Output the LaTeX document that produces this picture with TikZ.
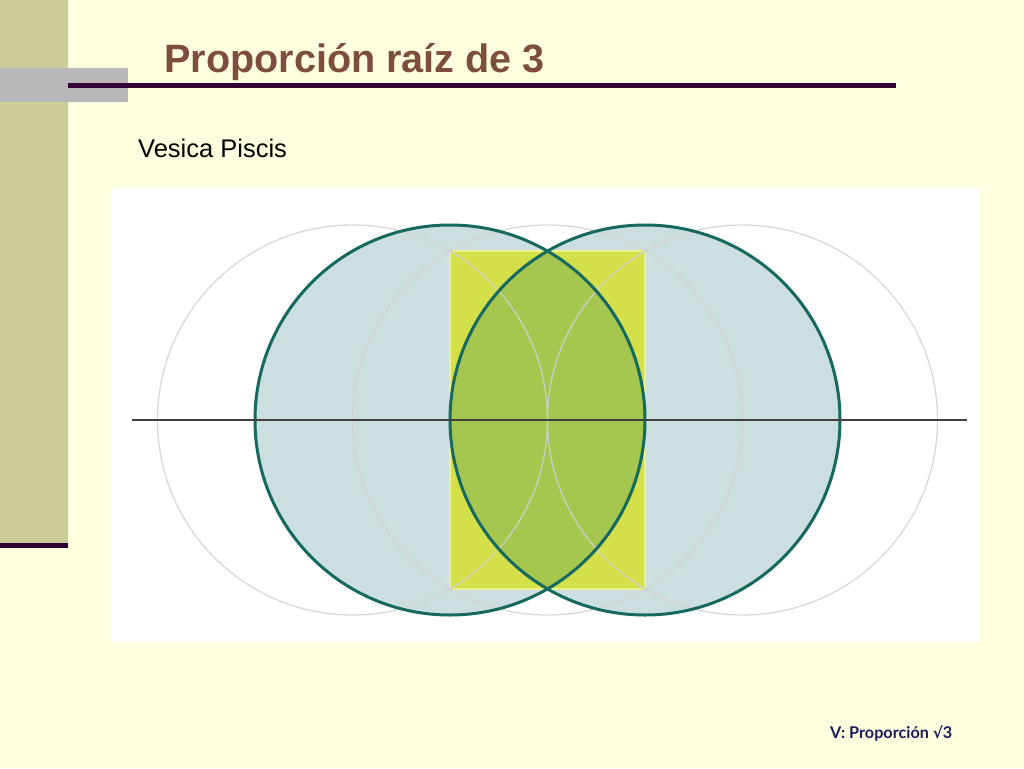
\documentclass[tikz,border=0pt]{standalone}
\usepackage{fontspec}
\setmainfont{Liberation Sans}
\newfontfamily\footfont{Lato}
\newfontfamily\symfont{DejaVu Sans}
\definecolor{bgyellow}{HTML}{FFFFE0}
\definecolor{sidebar}{HTML}{CCCC99}
\definecolor{grayrect}{HTML}{B8B8BA}
\definecolor{plum}{HTML}{330033}
\definecolor{titlebrown}{HTML}{7D4E40}
\definecolor{footnavy}{HTML}{1A1A5E}
\definecolor{tealfill}{HTML}{CCDFE0}
\definecolor{tealline}{HTML}{16695F}
\definecolor{rectyellow}{HTML}{D3E04A}
\definecolor{rectedge}{HTML}{EEF08C}
\definecolor{lensgreen}{HTML}{A5C64F}
\definecolor{guidegray}{HTML}{D2D2D2}
\tikzset{
  guide/.style={draw=guidegray, line width=1.3pt, opacity=0.85},
  bigcircle/.style={draw=tealline, line width=3pt},
}
\begin{document}
\begin{tikzpicture}[x=1pt,y=-1pt]
\useasboundingbox (0,0) rectangle (1024,768);
\fill[bgyellow] (0,0) rectangle (1024,768);
\fill[sidebar] (0,0) rectangle (68,545);
\fill[grayrect] (0,68) rectangle (128,102);
\fill[plum] (68,83) rectangle (896,88);
\fill[plum] (0,543) rectangle (68,548);
\fill[white] (111,188) rectangle (980,642);
% text
\node[anchor=base west, inner sep=0pt, text=titlebrown, font=\fontsize{39.6}{44}\selectfont\bfseries] (title) at (164,72) {Proporción raíz de 3};
\node[anchor=base west, inner sep=0pt, font=\fontsize{25.5}{29}\selectfont] (sub) at (138,157) {Vesica Piscis};
\node[anchor=base west, inner sep=0pt, text=footnavy, font=\fontsize{16.2}{19}\selectfont\footfont\bfseries] (foot) at (830,738) {V: Proporción {\symfont\fontsize{15}{19}\selectfont\bfseries √}3};
% figure
\fill[tealfill] (450,420) circle (195pt);
\fill[tealfill] (645,420) circle (195pt);
\fill[rectyellow] (450,251) rectangle (645,589);
\begin{scope}
  \clip (450,420) circle (195pt);
  \fill[lensgreen] (645,420) circle (195pt);
\end{scope}
\draw[rectedge, line width=1.5pt] (450,251) rectangle (645,589);
\draw[guide] (352.5,420) circle (195pt);
\draw[guide] (547.5,420) circle (195pt);
\draw[guide] (742.5,420) circle (195pt);
\draw[bigcircle] (450,420) circle (195pt);
\draw[bigcircle] (645,420) circle (195pt);
\coordinate (hl) at (132,420);
\coordinate (hr) at (967,420);
\draw[black!75, line width=1.6pt] (hl) -- (hr);
\end{tikzpicture}
\end{document}
